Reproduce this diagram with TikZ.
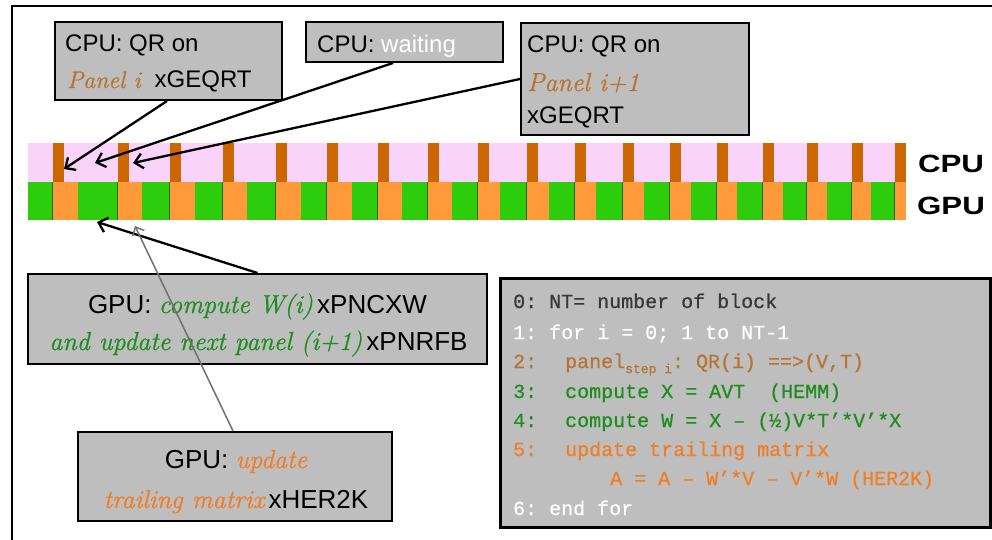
\documentclass[tikz,border=0pt]{standalone}
\usepackage{fontspec}
\setsansfont{Liberation Sans}
\setmonofont[FakeBold=0.6]{Liberation Mono}
\newfontfamily\lblfont[FakeStretch=1.25]{Liberation Sans}
\newfontfamily\itfont[FakeBold=0.9]{Latin Modern Roman}
\usetikzlibrary{arrows.meta,calc}
\definecolor{pinkbar}{HTML}{F9D3F9}
\definecolor{tickor}{HTML}{CC6600}
\definecolor{gpugreen}{HTML}{2DCC0C}
\definecolor{gpuor}{HTML}{FF9A3A}
\definecolor{boxgray}{HTML}{BEBEBE}
\definecolor{brownt}{HTML}{B87333}
\definecolor{greent}{HTML}{1E8C1E}
\definecolor{oranget}{HTML}{F07D28}
\definecolor{darkt}{HTML}{383838}
\definecolor{arrgray}{HTML}{707070}
\newcommand\calit[1]{{\itfont\itshape\fontsize{26}{26}\selectfont #1}}
\tikzset{
  graybox/.style={draw=black, line width=2pt, fill=boxgray, inner sep=0pt},
  codebox/.style={draw=black, line width=3pt, fill=boxgray, inner sep=0pt},
  cputxt/.style={font=\sffamily\fontsize{24}{24}\selectfont, inner sep=0pt, anchor=base west},
  gputxt/.style={font=\sffamily\fontsize{26}{26}\selectfont, inner sep=0pt, anchor=base},
  codetxt/.style={font=\ttfamily\fontsize{20}{20}\selectfont, inner sep=0pt, anchor=base west},
  lbl/.style={font=\lblfont\bfseries\fontsize{25}{25}\selectfont, inner sep=0pt},
  arr/.style={line width=2.3pt, -{Straight Barb[length=8pt,width=15pt]}},
  grayarr/.style={draw=arrgray, line width=1.5pt, -{Straight Barb[length=7pt,width=13pt]}}
}
\begin{document}
\begin{tikzpicture}[x=1pt,y=-1pt]
\useasboundingbox (0,0) rectangle (992,540);
\fill[white] (0,0) rectangle (992,540);
% frame
\draw[line width=2.5pt] (12,542) -- (12,6) -- (994,6);
% CPU bar
\fill[pinkbar] (28,143) rectangle (906,182);
\fill[gpugreen] (28,182) rectangle (906,220);
\foreach \t/\o in {53/25,118/24,170/25,223/24,276/25,327/25,378/24,428/24,478/22,527/22,575/21,623/21,670/21,717/20,763/20,807/20,852/19,895/11}{
  \fill[tickor] (\t,143) rectangle (\t+11,182);
  \fill[gpuor] (\t,182) rectangle (\t+\o,220);
  \fill[gpugreen!55!black] (\t-1.5,182) rectangle (\t,220);
}
\node[lbl] (cpulbl) at (951,164) {CPU};
\node[lbl] (gpulbl) at (951,206) {GPU};
% CPU boxes
\node[graybox, minimum width=227pt, minimum height=78pt] (b1) at (168.5,61) {};
\node[cputxt] (b1a) at (65,52) {CPU: QR on};
\node[cputxt] (b1b) at (67,88) {{\itfont\itshape\fontsize{24}{24}\selectfont\color{brownt}Panel i}\hspace{14pt}xGEQRT};
\node[graybox, minimum width=197pt, minimum height=40pt] (b2) at (404.5,42) {};
\node[cputxt] (b2a) at (317,53) {CPU: \textcolor{white}{waiting}};
\node[graybox, minimum width=228pt, minimum height=112pt] (b3) at (635,79) {};
\node[cputxt] (b3a) at (527,53) {CPU: QR on};
\node[cputxt] (b3b) at (527,91) {\calit{\color{brownt}Panel i+1}};
\node[cputxt] (b3c) at (527,124) {xGEQRT};
% GPU boxes
\node[graybox, minimum width=459pt, minimum height=90pt] (gA) at (257.5,319) {};
\node[gputxt] (gAa) at (257.5,313) {GPU: \calit{\color{greent}compute W(i)}\,xPNCXW};
\node[gputxt] (gAb) at (258.5,350) {\calit{\color{greent}and update next panel (i+1)}\,xPNRFB};
\node[graybox, minimum width=314pt, minimum height=89pt] (gB) at (235,476.5) {};
\node[gputxt] (gBa) at (236,468) {GPU: \calit{\color{oranget}update}};
\node[gputxt] (gBb) at (236,508) {\calit{\color{oranget}trailing matrix}\,xHER2K};
% code box
\node[codebox, minimum width=490pt, minimum height=249pt] (cb) at (745,402.5) {};
\node[codetxt, text=darkt] (l0) at (513,308) {0: NT= number of block};
\node[codetxt, text=white] (l1) at (513,339) {1: for i = 0; 1 to NT-1};
\node[codetxt, text=brownt] (l2) at (513,368) {\makebox[52pt][l]{2:}panel\raisebox{-5pt}{\fontsize{13}{13}\selectfont step i}: QR(i) ==>(V,T)};
\node[codetxt, text=greent] (l3) at (513,398) {\makebox[52pt][l]{3:}compute X = AVT\ \ (HEMM)};
\node[codetxt, text=greent] (l4) at (513,427) {\makebox[52pt][l]{4:}compute W = X – (½)V*T’*V’*X};
\node[codetxt, text=oranget] (l5) at (513,456) {\makebox[52pt][l]{5:}update trailing matrix};
\node[codetxt, text=oranget] (l6) at (513,485) {\hspace*{97pt}A = A – W’*V – V’*W (HER2K)};
\node[codetxt, text=white] (l7) at (513,515) {6: end for};
% arrow targets
\coordinate (t1) at (64,169);
\coordinate (t2) at (95,163);
\coordinate (t3) at (133,163);
\coordinate (t4) at (97,222);
\coordinate (t5) at (135,226);
% arrows
\draw[arr] ($(b1.south)+(-1.5,0)$) -- (t1);
\draw[arr] ($(b2.south)+(-11.5,0)$) -- (t2);
\draw[arr] (b3.west) -- (t3);
\draw[arr] (gA.north) -- (t4);
\draw[grayarr] ($(gB.north)+(-2,0)$) -- (t5);
\end{tikzpicture}
\end{document}
